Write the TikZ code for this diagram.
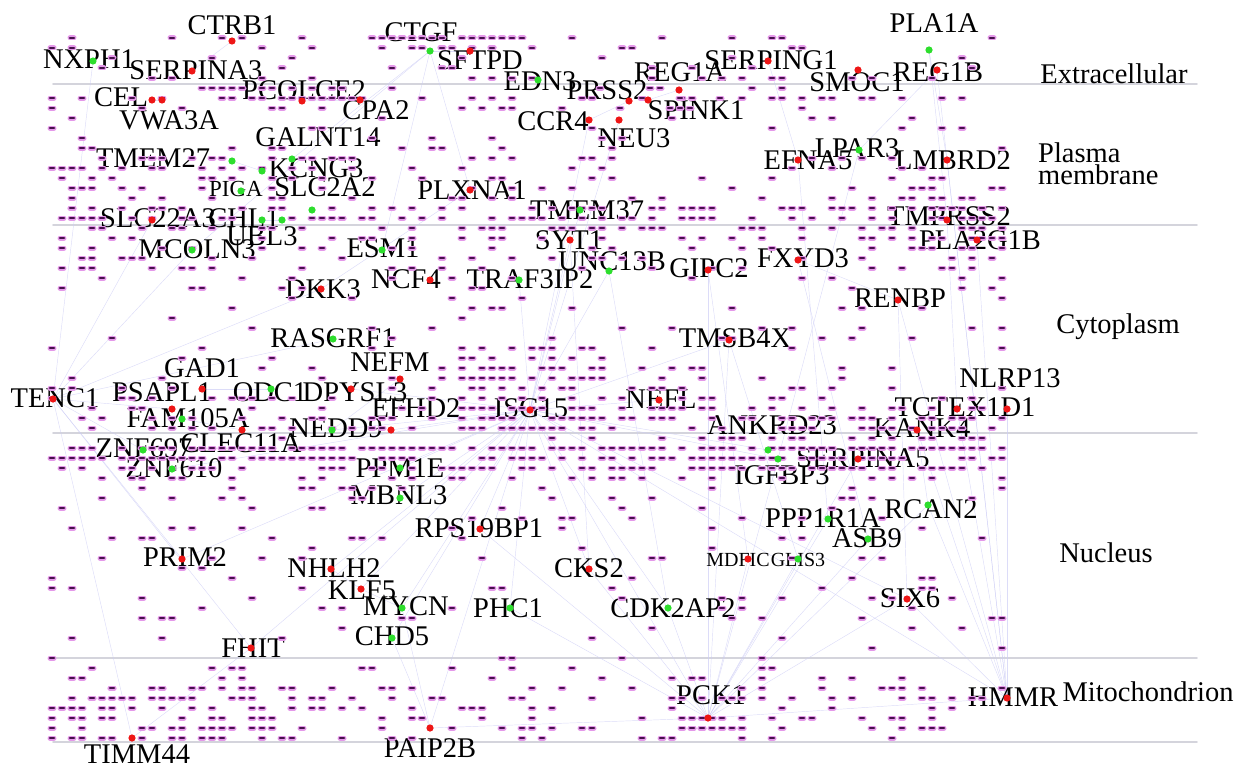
\documentclass[tikz,border=0pt]{standalone}
\usepackage{fontspec}
\setmainfont{Liberation Serif}
\definecolor{barc}{RGB}{70,16,76}
\definecolor{glowc}{RGB}{228,152,233}
\definecolor{upc}{RGB}{238,22,22}
\definecolor{downc}{RGB}{45,222,45}
\definecolor{linkc}{RGB}{205,205,245}
\definecolor{compc}{RGB}{212,212,220}
\begin{document}
\begin{tikzpicture}[x=1pt, y=-1pt, line join=round, line cap=round]
\tikzset{every node/.style={inner sep=0pt, font=\fontsize{28.5}{30}\selectfont}}
\tikzset{dashglow/.style={glowc, line width=5pt}, dashbar/.style={barc, line width=2.6pt},
  link/.style={linkc, line width=0.45pt, opacity=0.7}, compline/.style={compc, line width=1.6pt}}
\useasboundingbox (0,0) rectangle (1247,768);
% compartment borders
\foreach \y in {84,225,433,658,742}
  \draw[compline] (53,\y) -- (1197,\y);
% gene positions
\foreach \n/\x/\y in {ctrb1/232/41, nxph1/93/61, serpina3/192/71, ctgf/430/51, sftpd/470/51,
  edn3/538/80, prss2/629/101, spink1/648/100, reg1a/679/90, serping1/768/61, smoc1/858/70,
  pla1a/929/50, reg1b/937/70, cel/152/100, vwa3a/162/100, pcolce2/302/101, cpa2/360/100,
  ccr4/589/120, neu3/619/120, tmem27/232/161, galnt14/292/159, kcng3/262/171, piga/241/191,
  slc2a2/312/210, slc22a3/152/220, chl1/262/220, ubl3/282/220, mcoln3/192/250, plxna1/470/190,
  tmem37/580/210, efna5/798/160, lpar3/859/150, lmbrd2/947/160, tmprss2/947/220, pla2g1b/977/240,
  esm1/382/250, syt1/570/240, unc13b/609/271, ncf4/430/280, traf3ip2/519/280, gipc2/708/270,
  fxyd3/798/260, dkk3/321/289, renbp/898/300, rasgrf1/333/339, tmsb4x/729/340, nefm/400/379,
  gad1/202/389, psapl1/172/409, fam105a/182/419, odc1/271/389, dpysl3/351/389, tenc1/53/399,
  nlrp13/1007/409, tctex1d1/957/409, isg15/530/410, nefl/659/400, efhd2/391/430, nedd9/332/430,
  clec11a/242/430, kank4/917/430, ankrd23/768/450, igfbp3/778/459, serpina5/858/459,
  znf697/143/450, znf610/172/469, ppm1e/400/468, mbnl3/400/498, rcan2/928/505, ppp1r1a/828/519,
  asb9/868/539, rps19bp1/480/529, prim2/182/559, mdfic/748/559, glis3/798/559, cks2/589/569,
  nhlh2/331/569, klf5/361/589, six6/907/599, mycn/402/608, phc1/510/608, cdk2ap2/668/608,
  chd5/392/638, fhit/251/648, pck1/708/718, hmmr/1007/698, timm44/132/738, paip2b/430/728}
  \coordinate (\n) at (\x,\y);
% interactions
\foreach \a/\b in {isg15/ppm1e, isg15/mbnl3, isg15/rps19bp1, isg15/phc1, isg15/cks2, isg15/cdk2ap2,
  isg15/nefl, isg15/efhd2, isg15/traf3ip2, isg15/unc13b, isg15/syt1, isg15/tmem37, isg15/mycn,
  isg15/klf5, isg15/nhlh2, isg15/znf610, isg15/pck1, isg15/fhit, isg15/chd5, isg15/hmmr,
  isg15/ankrd23, isg15/tmsb4x, isg15/dpysl3, isg15/nedd9, isg15/ccr4, isg15/neu3, isg15/six6,
  isg15/igfbp3, isg15/paip2b, isg15/prim2, pck1/cdk2ap2, pck1/cks2, pck1/mdfic, pck1/glis3,
  pck1/phc1, pck1/ppp1r1a, pck1/six6, pck1/rcan2, pck1/paip2b, pck1/igfbp3, pck1/tmsb4x,
  pck1/hmmr, pck1/gipc2, pck1/asb9, pck1/serpina5, pck1/rps19bp1, tenc1/slc22a3, tenc1/mcoln3,
  tenc1/psapl1, tenc1/znf697, tenc1/timm44, tenc1/prim2, tenc1/nxph1, tenc1/dkk3, tenc1/rasgrf1,
  tenc1/fhit, hmmr/nlrp13, hmmr/tctex1d1, hmmr/pla2g1b, hmmr/lmbrd2, hmmr/reg1b, hmmr/six6,
  hmmr/kank4, hmmr/rcan2, hmmr/renbp, ctgf/sftpd, ctgf/mcoln3, ctgf/esm1, ctgf/plxna1,
  ctgf/galnt14, reg1b/lpar3, pla1a/lmbrd2, pla1a/tmprss2, timm44/fhit, paip2b/mycn, paip2b/chd5,
  plxna1/dkk3, serping1/efna5, renbp/six6, kank4/rcan2, fxyd3/asb9, nefm/nedd9, gipc2/mdfic,
  tmsb4x/glis3, syt1/cks2, unc13b/cdk2ap2, efna5/ppp1r1a, lpar3/igfbp3, reg1a/spink1,
  prss2/ccr4, ctrb1/serpina3, cel/vwa3a, pcolce2/cpa2, tmem27/kcng3, chl1/ubl3, odc1/gad1,
  fam105a/clec11a, nhlh2/klf5, klf5/mycn, fxyd3/renbp, tmprss2/tctex1d1}
  \draw[link] (\a) -- (\b);
% gene labels
\foreach \n/\x/\y/\t in {ctrb1/232/25/CTRB1, nxph1/89/59/NXPH1, serpina3/196/70/SERPINA3,
  ctgf/421/32/CTGF, sftpd/480/60/SFTPD, edn3/540/81/EDN3, prss2/607/90/PRSS2, reg1a/680/72/REG1A,
  spink1/696/110/SPINK1, serping1/771/60/SERPING1, smoc1/857/82/SMOC1, pla1a/934/23/PLA1A,
  reg1b/938/72/REG1B, cel/121/97/CEL, vwa3a/169/120/VWA3A, pcolce2/304/90/PCOLCE2,
  cpa2/376/110/CPA2, ccr4/553/121/CCR4, neu3/634/138/NEU3, galnt14/318/137/GALNT14,
  tmem27/153/158/TMEM27, kcng3/316/168/KCNG3, slc2a2/325/187/SLC2A2, slc22a3/158/218/SLC22A3,
  chl1/244/218/CHL1, ubl3/262/236/UBL3, mcoln3/197/249/MCOLN3, plxna1/472/190/PLXNA1,
  tmem37/587/210/TMEM37, efna5/808/160/EFNA5, lpar3/857/148/LPAR3, lmbrd2/953/160/LMBRD2,
  tmprss2/949/216/TMPRSS2, pla2g1b/980/240/PLA2G1B, esm1/383/248/ESM1, syt1/569/240/SYT1,
  unc13b/612/261/UNC13B, ncf4/406/279/NCF4, traf3ip2/530/279/TRAF3IP2, gipc2/709/268/GIPC2,
  fxyd3/803/258/FXYD3, dkk3/323/289/DKK3, renbp/900/298/RENBP, rasgrf1/333/338/RASGRF1,
  tmsb4x/735/338/TMSB4X, nefm/390/362/NEFM, gad1/202/368/GAD1, psapl1/162/392/PSAPL1,
  odc1/270/392/ODC1, dpysl3/355/392/DPYSL3, tenc1/55/398/TENC1, nlrp13/1010/378/NLRP13,
  tctex1d1/965/407/TCTEX1D1, isg15/531/408/ISG15, nefl/661/399/NEFL, efhd2/416/408/EFHD2,
  fam105a/188/418/FAM105A, ankrd23/772/425/ANKRD23, kank4/922/428/KANK4, nedd9/336/428/NEDD9,
  clec11a/241/443/CLEC11A, znf697/144/448/ZNF697, znf610/174/468/ZNF610,
  serpina5/863/458/SERPINA5, igfbp3/782/475/IGFBP3, ppm1e/400/468/PPM1E, mbnl3/399/495/MBNL3,
  rcan2/931/509/RCAN2, ppp1r1a/823/518/PPP1R1A, asb9/867/538/ASB9, rps19bp1/479/528/RPS19BP1,
  prim2/185/557/PRIM2, cks2/589/568/CKS2, nhlh2/334/568/NHLH2, klf5/362/590/KLF5,
  six6/910/598/SIX6, mycn/406/606/MYCN, phc1/508/608/PHC1, cdk2ap2/673/608/CDK2AP2,
  chd5/392/636/CHD5, fhit/253/648/FHIT, pck1/711/695/PCK1, hmmr/1013/697/HMMR,
  timm44/137/754/TIMM44, paip2b/430/748/PAIP2B}
  \node (\n-t) at (\x,\y) {\t};
\node (piga-t) at (236,189) {\fontsize{23}{24}\selectfont PIGA};
\node (mdfic-t) at (738,560) {\fontsize{20}{22}\selectfont MDFIC};
\node (glis3-t) at (798,560) {\fontsize{20}{22}\selectfont GLIS3};
% compartment names
\node (extra) at (1114,74) {Extracellular};
\node[anchor=base west] (plasma) at (1038,162) {Plasma};
\node[anchor=base west] (membr) at (1038,184) {membrane};
\node[anchor=base] (cyto) at (1118,333) {Cytoplasm};
\node (nucl) at (1106,553) {Nucleus};
\node (mito) at (1148,692) {Mitochondrion};
% unlabelled genes, row by row
\pgfmathsetseed{42}
\foreach \y/\p in {38/0.15, 48/0.12, 58/0.1, 68/0.1, 78/0.1, 88/0.04, 98/0.3, 108/0.1,
  118/0.06, 128/0.05, 138/0.06, 148/0.1, 158/0.12, 168/0.12, 178/0.15, 188/0.2, 198/0.28,
  208/0.42, 218/0.5, 228/0.3, 238/0.25, 248/0.22, 258/0.2, 268/0.2, 278/0.15, 288/0.1,
  298/0.05, 308/0.05, 318/0.05, 328/0.06, 338/0.06, 348/0.07, 358/0.07, 368/0.08, 378/0.1,
  388/0.12, 398/0.15, 408/0.25, 418/0.35, 428/0.35, 438/0.03, 448/0.8, 458/0.75, 468/0.5,
  478/0.25, 488/0.15, 498/0.1, 508/0.08, 518/0.07, 528/0.06, 538/0.06, 548/0.05, 558/0.07,
  568/0.07, 578/0.07, 588/0.07, 598/0.08, 608/0.1, 618/0.07, 628/0.05, 638/0.04, 648/0.04,
  658/0.04, 668/0.08, 678/0.1, 688/0.2, 698/0.38, 708/0.2, 718/0.22, 728/0.22, 738/0.15}
  \foreach \x in {52,62,...,1002} {
    \pgfmathtruncatemacro\hit{rnd<\p ? 1 : 0}
    \ifnum\hit=1
      \draw[dashglow] (\x-2,\y) -- (\x+2,\y);
      \draw[dashbar] (\x-2,\y) -- (\x+2,\y);
    \fi
  }
% denser clusters
\foreach \xa/\xb/\ya/\yb/\p in {462/602/348/428/0.5, 52/352/148/218/0.2, 52/292/688/738/0.35,
  702/1002/418/468/0.35, 682/742/718/728/0.85, 622/702/368/408/0.3, 932/1002/188/248/0.35,
  382/522/38/48/0.5, 600/720/88/108/0.3, 202/342/88/108/0.35} {
  \pgfmathtruncatemacro\xc{\xa+10}
  \pgfmathtruncatemacro\yc{\ya+10}
  \foreach \y in {\ya,\yc,...,\yb}
    \foreach \x in {\xa,\xc,...,\xb} {
      \pgfmathtruncatemacro\hit{rnd<\p ? 1 : 0}
      \ifnum\hit=1
        \draw[dashglow] (\x-2,\y) -- (\x+2,\y);
        \draw[dashbar] (\x-2,\y) -- (\x+2,\y);
      \fi
    }
}
% seed genes
\foreach \n in {ctrb1, serpina3, sftpd, prss2, spink1, reg1a, serping1, smoc1, reg1b, cel, vwa3a,
  pcolce2, cpa2, ccr4, neu3, slc22a3, plxna1, efna5, lmbrd2, tmprss2, pla2g1b, syt1, ncf4, gipc2,
  fxyd3, dkk3, renbp, tmsb4x, nefm, gad1, psapl1, dpysl3, tenc1, nlrp13, tctex1d1, isg15, nefl,
  efhd2, clec11a, kank4, serpina5, rps19bp1, prim2, mdfic, cks2, nhlh2, klf5, six6, fhit, pck1,
  hmmr, timm44, paip2b}
  \fill[upc] (\n) circle (3.6);
\foreach \n in {nxph1, ctgf, edn3, pla1a, tmem27, galnt14, kcng3, piga, slc2a2, chl1, ubl3, mcoln3,
  tmem37, lpar3, esm1, unc13b, traf3ip2, rasgrf1, fam105a, odc1, nedd9, ankrd23, igfbp3, znf697,
  znf610, ppm1e, mbnl3, rcan2, ppp1r1a, asb9, glis3, mycn, phc1, cdk2ap2, chd5}
  \fill[downc] (\n) circle (3.6);
\end{tikzpicture}
\end{document}
